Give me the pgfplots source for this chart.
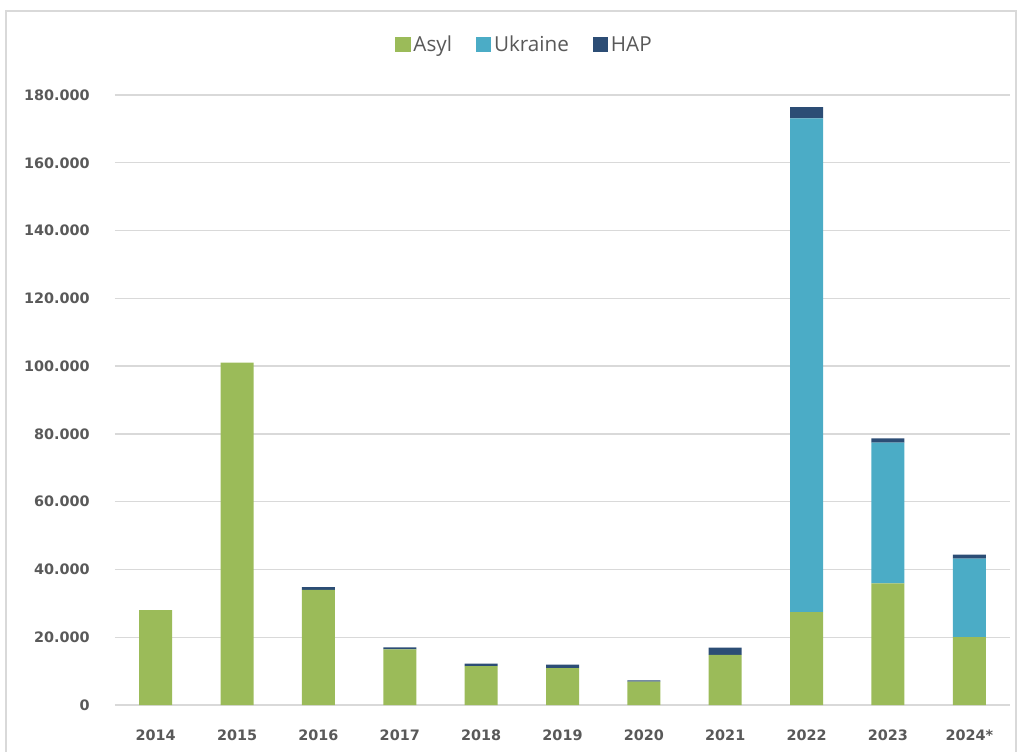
\documentclass[border=0pt]{standalone}
\usepackage{pgfplots}
\pgfplotsset{compat=1.18}
\usepackage{fontspec}
\setmainfont{DejaVu Sans}
\newfontfamily\legfont{Open Sans}
\definecolor{asyl}{HTML}{9BBB59}
\definecolor{ukr}{HTML}{4BACC6}
\definecolor{hap}{HTML}{2C4D75}
\definecolor{txt}{HTML}{595959}
\definecolor{gridc}{HTML}{D9D9D9}
\begin{document}
\begin{tikzpicture}
\path[use as bounding box] (0,0) rectangle (766.5pt,563.25pt);
\draw[gridc, line width=1.2pt] (4.5pt,-2pt) -- (4.5pt,555pt) -- (762pt,555pt) -- (762pt,-2pt);
\begin{axis}[
    at={(86.25pt,34.5pt)}, anchor=south west,
    scale only axis,
    width=671.25pt, height=457.5pt,
    ybar stacked,
    bar width=24.75pt,
    xmin=-0.5, xmax=10.5,
    ymin=0, ymax=180000,
    ytick={0,20000,...,180000},
    xtick={0,...,10},
    xticklabels={2014,2015,2016,2017,2018,2019,2020,2021,2022,2023,2024*},
    axis line style={draw=none},
    major tick length=0pt,
    ymajorgrids,
    grid style={gridc, line width=1pt},
    scaled y ticks=false,
    /pgf/number format/.cd, fixed, 1000 sep={.}, assume math mode=true,
    /pgfplots/.cd,
    ticklabel style={font=\fontsize{10.8}{12}\selectfont\bfseries, text=txt},
    yticklabel style={inner sep=0pt, anchor=east, xshift=-18.75pt},
    xticklabel style={inner sep=0pt, anchor=north, yshift=-18.75pt},
    legend style={at={(0.458,1.082)}, anchor=center, draw=none,
      legend columns=-1, font=\legfont\fontsize{15.5}{17}\selectfont, text=txt,
      /tikz/every odd column/.append style={column sep=0pt},
      /tikz/every even column/.append style={column sep=16pt}},
    legend image code/.code={\fill[#1] (0pt,-5.5pt) rectangle (11.5pt,6pt);},
    ]
\addplot [fill=asyl, draw=none] coordinates {(0,28000) (1,101000) (2,34000) (3,16400) (4,11500) (5,10900) (6,6900) (7,14800) (8,27400) (9,35900) (10,20000)};
\addplot [fill=ukr, draw=none] coordinates {(0,0) (1,0) (2,0) (3,0) (4,0) (5,0) (6,0) (7,0) (8,145700) (9,41500) (10,23200)};
\addplot [fill=hap, draw=none] coordinates {(0,0) (1,0) (2,800) (3,600) (4,700) (5,1000) (6,400) (7,2100) (8,3300) (9,1300) (10,1200)};
\legend{Asyl,Ukraine,HAP}
\end{axis}
\end{tikzpicture}
\end{document}
